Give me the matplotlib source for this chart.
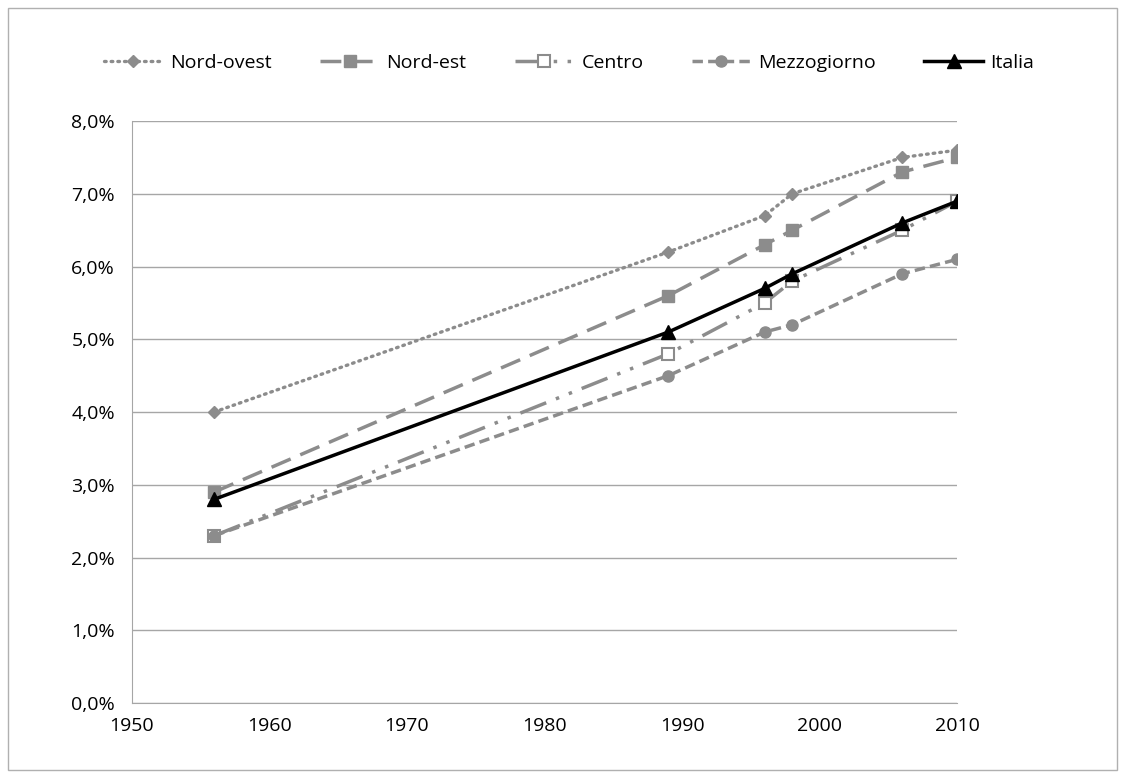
import matplotlib
matplotlib.use('Agg')
import matplotlib.pyplot as plt
from matplotlib.patches import Rectangle
from matplotlib.ticker import FuncFormatter

plt.rcParams['font.family'] = ['Open Sans', 'DejaVu Sans']

anni = [1956, 1989, 1996, 1998, 2006, 2010]
nord_ovest = [4.0, 6.2, 6.7, 7.0, 7.5, 7.6]
nord_est = [2.9, 5.6, 6.3, 6.5, 7.3, 7.5]
centro = [2.3, 4.8, 5.5, 5.8, 6.5, 6.9]
mezzogiorno = [2.3, 4.5, 5.1, 5.2, 5.9, 6.1]
italia = [2.8, 5.1, 5.7, 5.9, 6.6, 6.9]

grigio = '#8c8c8c'

fig = plt.figure(figsize=(11.25, 7.78), dpi=100)
ax = fig.add_axes([0.117, 0.0964, 0.734, 0.748])

ax.plot(anni, nord_ovest, color=grigio, lw=2.4, ls=(0, (0.5, 1.5)), dash_capstyle='round',
        marker='D', ms=6, label='Nord-ovest')
ax.plot(anni, nord_est, color=grigio, lw=2.5, ls=(0, (6, 3)),
        marker='s', ms=8, label='Nord-est')
ax.plot(anni, centro, color=grigio, lw=2.5, ls=(0, (8, 3, 1, 3, 1, 3)),
        marker='s', ms=8, mfc='white', mec=grigio, mew=1.5, label='Centro')
ax.plot(anni, mezzogiorno, color=grigio, lw=2.5, ls=(0, (3, 1.5)),
        marker='o', ms=8, label='Mezzogiorno')
ax.plot(anni, italia, color='black', lw=2.5, marker='^', ms=10, label='Italia')

ax.set_xlim(1950, 2010)
ax.set_ylim(0, 8)
ax.set_xticks(range(1950, 2011, 10))
ax.set_yticks(range(0, 9))
ax.yaxis.set_major_formatter(FuncFormatter(lambda v, p: ('%.1f%%' % v).replace('.', ',')))
ax.grid(axis='y', color='#a6a6a6', lw=1)
ax.set_axisbelow(True)
for s in ['top', 'right']:
    ax.spines[s].set_visible(False)
for s in ['left', 'bottom']:
    ax.spines[s].set_color('#a6a6a6')
ax.tick_params(labelsize=14, length=0)
ax.tick_params(axis='x', pad=10)
ax.tick_params(axis='y', pad=12)

ax.legend(loc='lower center', bbox_to_anchor=(0.53, 1.055), ncol=5, frameon=False,
          fontsize=14, handlelength=3, columnspacing=2.5, handletextpad=0.4)

fig.patches.append(Rectangle((0.007, 0.01), 0.986, 0.98, transform=fig.transFigure,
                             fill=False, edgecolor='#b0b0b0', lw=1))

fig.savefig('out.png', dpi=100)
